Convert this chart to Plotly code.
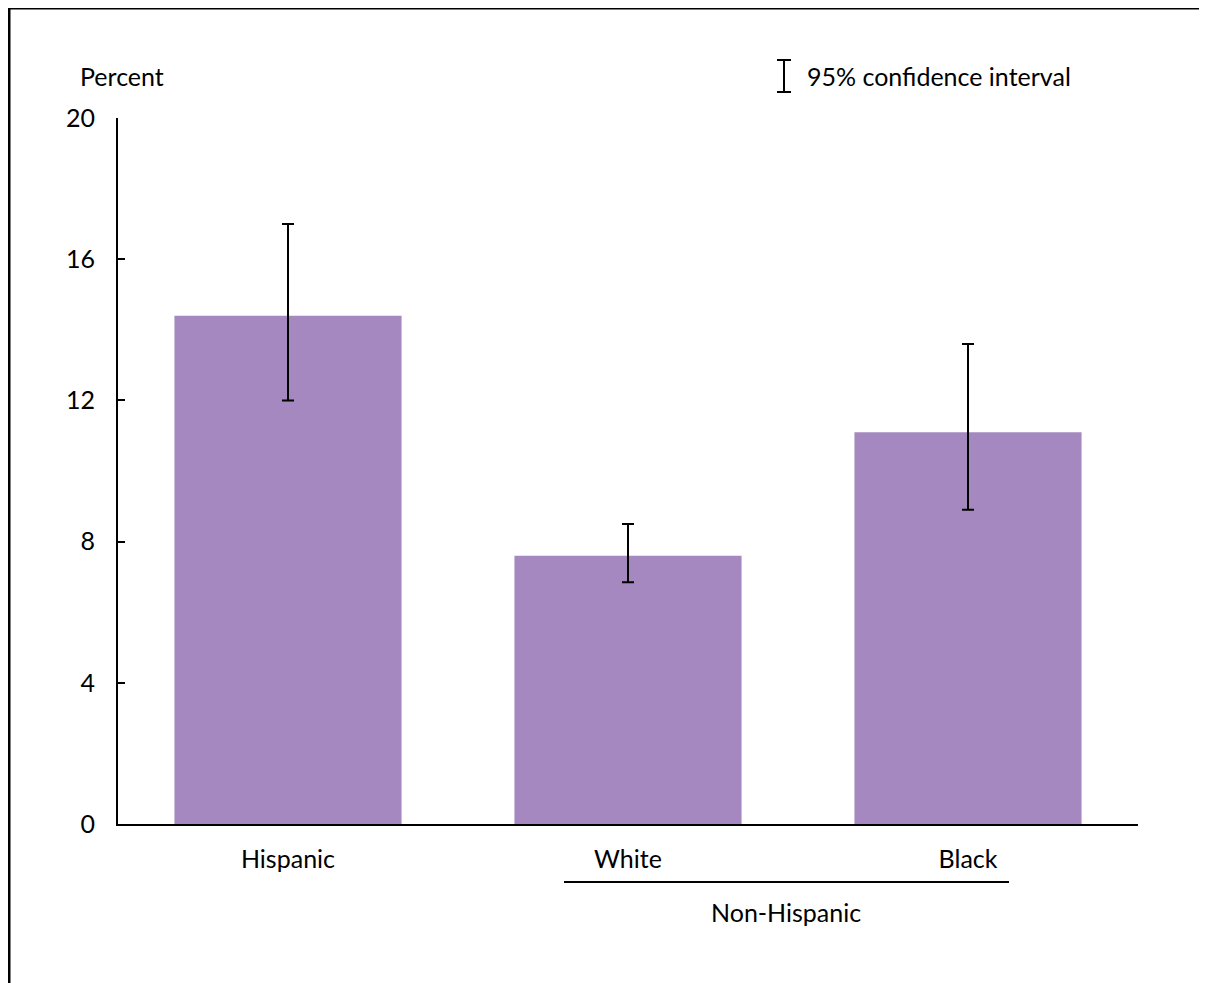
import plotly.graph_objects as go

categories = ["Hispanic", "White", "Black"]
percent = [14.4, 7.6, 11.1]
ci_upper = [17.0, 8.5, 13.6]
ci_lower = [12.0, 6.85, 8.9]
y_ticks = [0, 4, 8, 12, 16, 20]

err_plus = [u - v for u, v in zip(ci_upper, percent)]
err_minus = [v - l for v, l in zip(percent, ci_lower)]

FONT = "Lato"
FS = 25
OFF = 8  # page body margin
W, H = 1207 - OFF, 983 - OFF
L, T = 118 - OFF, 118 - OFF
R = W - (1138 - OFF)
B = H - (824 - OFF)
pw, ph = W - L - R, H - T - B


def px(x):
    return (x - OFF - L) / pw


def py(y):
    return (H - B - (y - OFF)) / ph


fig = go.Figure()
fig.add_trace(go.Bar(
    x=categories, y=percent, width=0.668,
    marker=dict(color="#A488BF", line=dict(width=0)),
    error_y=dict(type="data", symmetric=False, array=err_plus, arrayminus=err_minus,
                 color="black", thickness=2, width=6),
    showlegend=False,
))

fig.update_layout(
    width=W, height=H,
    margin=dict(l=L, r=R, t=T, b=B),
    paper_bgcolor="white", plot_bgcolor="white",
    font=dict(family=FONT, size=FS, color="black"),
    xaxis=dict(range=[-0.5, 2.5], showline=True, linecolor="black", linewidth=2,
               ticks="", showgrid=False, zeroline=False, ticklabelstandoff=12,
               tickfont=dict(size=FS)),
    yaxis=dict(range=[0, 20], tickvals=y_ticks, showline=True, linecolor="black",
               linewidth=2, ticks="inside", ticklen=7, tickwidth=2, tickcolor="black",
               showgrid=False, zeroline=False, ticklabelstandoff=16,
               tickfont=dict(size=FS)),
)

shapes = [
    # outer frame (top and left)
    dict(type="line", xref="paper", yref="paper", x0=px(8), x1=px(1210), y0=py(8), y1=py(8),
         line=dict(color="black", width=3)),
    dict(type="line", xref="paper", yref="paper", x0=px(9), x1=px(9), y0=py(8), y1=py(983),
         line=dict(color="black", width=3)),
    # Non-Hispanic underline
    dict(type="line", xref="paper", yref="paper", x0=px(564), x1=px(1009), y0=py(882), y1=py(882),
         line=dict(color="black", width=2)),
    # CI legend icon
    dict(type="line", xref="paper", yref="paper", x0=px(784), x1=px(784), y0=py(60), y1=py(92),
         line=dict(color="black", width=2)),
    dict(type="line", xref="paper", yref="paper", x0=px(777), x1=px(791), y0=py(60), y1=py(60),
         line=dict(color="black", width=2)),
    dict(type="line", xref="paper", yref="paper", x0=px(777), x1=px(791), y0=py(92), y1=py(92),
         line=dict(color="black", width=2)),
]
fig.update_layout(shapes=shapes)

annotations = [
    dict(text="Percent", x=px(78), y=py(76), xref="paper", yref="paper",
         xanchor="left", yanchor="middle", showarrow=False),
    dict(text="95% confidence interval", x=px(805), y=py(76), xref="paper", yref="paper",
         xanchor="left", yanchor="middle", showarrow=False),
    dict(text="Non-Hispanic", x=px(786), y=py(912), xref="paper", yref="paper",
         xanchor="center", yanchor="middle", showarrow=False),
]
fig.update_layout(annotations=annotations)

fig.write_html("out.html")
